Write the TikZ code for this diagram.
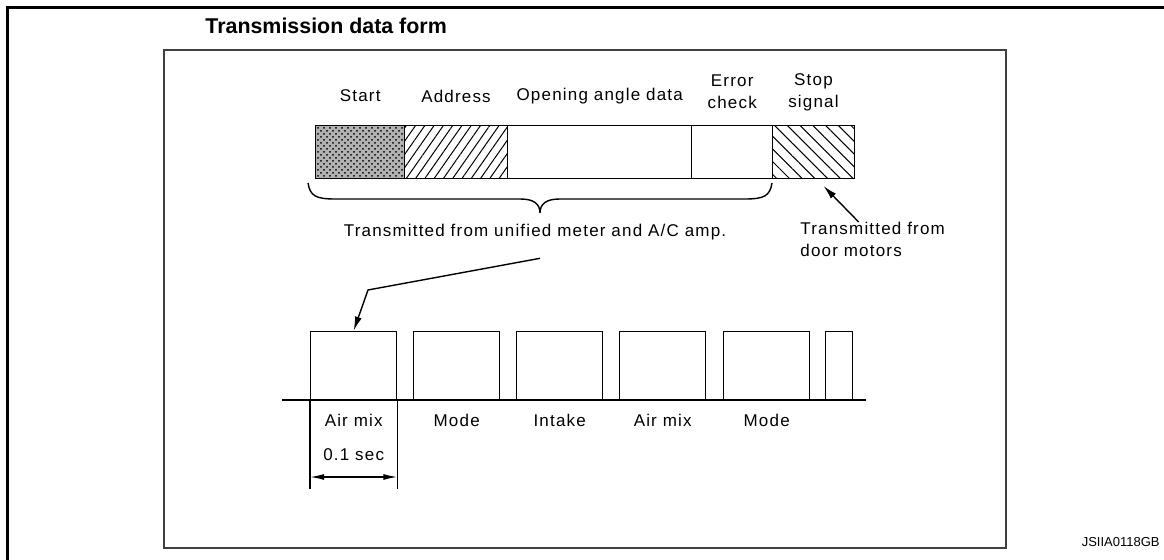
\documentclass[tikz,border=0pt]{standalone}
\usepackage{fontspec}
\setmainfont{Liberation Sans}
\newfontfamily\lblfont{Liberation Sans}[LetterSpace=7]
\usetikzlibrary{arrows.meta,patterns,patterns.meta,positioning}

\begin{document}
\begin{tikzpicture}[x=0.5pt,y=-0.5pt,
    lbl/.style={font=\lblfont\fontsize{8.5}{11}\selectfont,inner sep=0pt,align=center},
    field/.style={draw,line width=0.7pt,minimum height=26.5pt,inner sep=0pt,anchor=north west},
    pulse/.style={draw,line width=0.7pt,minimum height=34pt,minimum width=43pt,inner sep=0pt,anchor=south west},
    tip/.style={-{Latex[length=7pt,width=3.5pt]}}]
    \useasboundingbox (0,0) rectangle (1164,560);
    % frames
    \draw[line width=1.6pt] (7.5,560) -- (7.5,7.5) -- (1164,7.5);
    \draw[line width=1pt,black!75] (164,50) rectangle (1006,548);
    \node[font=\bfseries\fontsize{10.7}{12}\selectfont,anchor=west,inner sep=0pt] (title) at (205,26) {Transmission data form};

    % the data frame
    \node[field,minimum width=44.5pt,preaction={fill=black!30},pattern=crosshatch dots] (start) at (315,125) {};
    \node[field,minimum width=51.5pt,pattern={Lines[angle=55,distance=3.8pt,line width=0.5pt]}] (addr) at (404,125) {};
    \node[field,minimum width=92pt] (data) at (507,125) {};
    \node[field,minimum width=40.5pt] (check) at (691,125) {};
    \node[field,minimum width=41pt,pattern={Lines[angle=-45,distance=4.5pt,line width=0.5pt]}] (stop) at (772,125) {};

    \node[lbl] (lstart) at (start.center |- 0,96) {Start};
    \node[lbl] (laddr) at (addr.center |- 0,96) {Address};
    \node[lbl] (ldata) at (data.center |- 0,96) {Opening angle data};
    \node[lbl] (lcheck) at (check.center |- 0,92) {Error\\check};
    \node[lbl] (lstop) at (stop.center |- 0,92) {Stop\\signal};

    % brace under the frame
    \draw[line width=0.7pt] (308,183) .. controls (310,196) and (316,199) .. (335,199) -- (520,199)
      .. controls (534,199) and (540,204) .. (540,213) .. controls (540,204) and (546,199) .. (560,199)
      -- (745,199) .. controls (764,199) and (770,196) .. (772,183);
    \node[lbl] (meter) at (535,232) {Transmitted from unified meter and A/C amp.};
    \node[lbl,anchor=north west,align=left] (door) at (800,222) {Transmitted from\\door motors};
    \draw[tip,line width=0.7pt] ([xshift=-7pt]door.north) -- ([xshift=5pt,yshift=-3.5pt]stop.south);

    % pulses on the line
    \draw[line width=0.7pt] (282,400) -- (866,400);
    \foreach \x/\t [count=\i] in {310/Air mix,413/Mode,516/Intake,619/Air mix,723/Mode} {
      \node[pulse] (p\i) at (\x,400) {};
      \node[lbl,below=7pt of p\i] (t\i) {\t};
    }
    \node[pulse,minimum width=13.5pt] (p6) at (825,400) {};
    \coordinate (bend) at (368,290);
    \draw[tip,line width=0.7pt] ([xshift=2.5pt,yshift=-9pt]meter.south) -- (bend) -- (p1.north);

    % one period
    \node[lbl] (period) at (p1.center |- 0,455) {0.1 sec};
    \draw[line width=0.7pt] (p1.south west) -- ++(0,89) coordinate (dl0);
    \draw[line width=0.7pt] (p1.south east) -- ++(0,89) coordinate (dr0);
    \path (p1.south west) ++(0,77) coordinate (dl);
    \path (p1.south east) ++(0,77) coordinate (dr);
    \draw[{Latex[length=7pt,width=3pt]}-{Latex[length=7pt,width=3pt]},line width=0.7pt] (dl) -- (dr);

    \node[font=\fontsize{6.5}{7}\selectfont,anchor=east,inner sep=0pt] (code) at (1160,542) {JSIIA0118GB};
\end{tikzpicture}
\end{document}
